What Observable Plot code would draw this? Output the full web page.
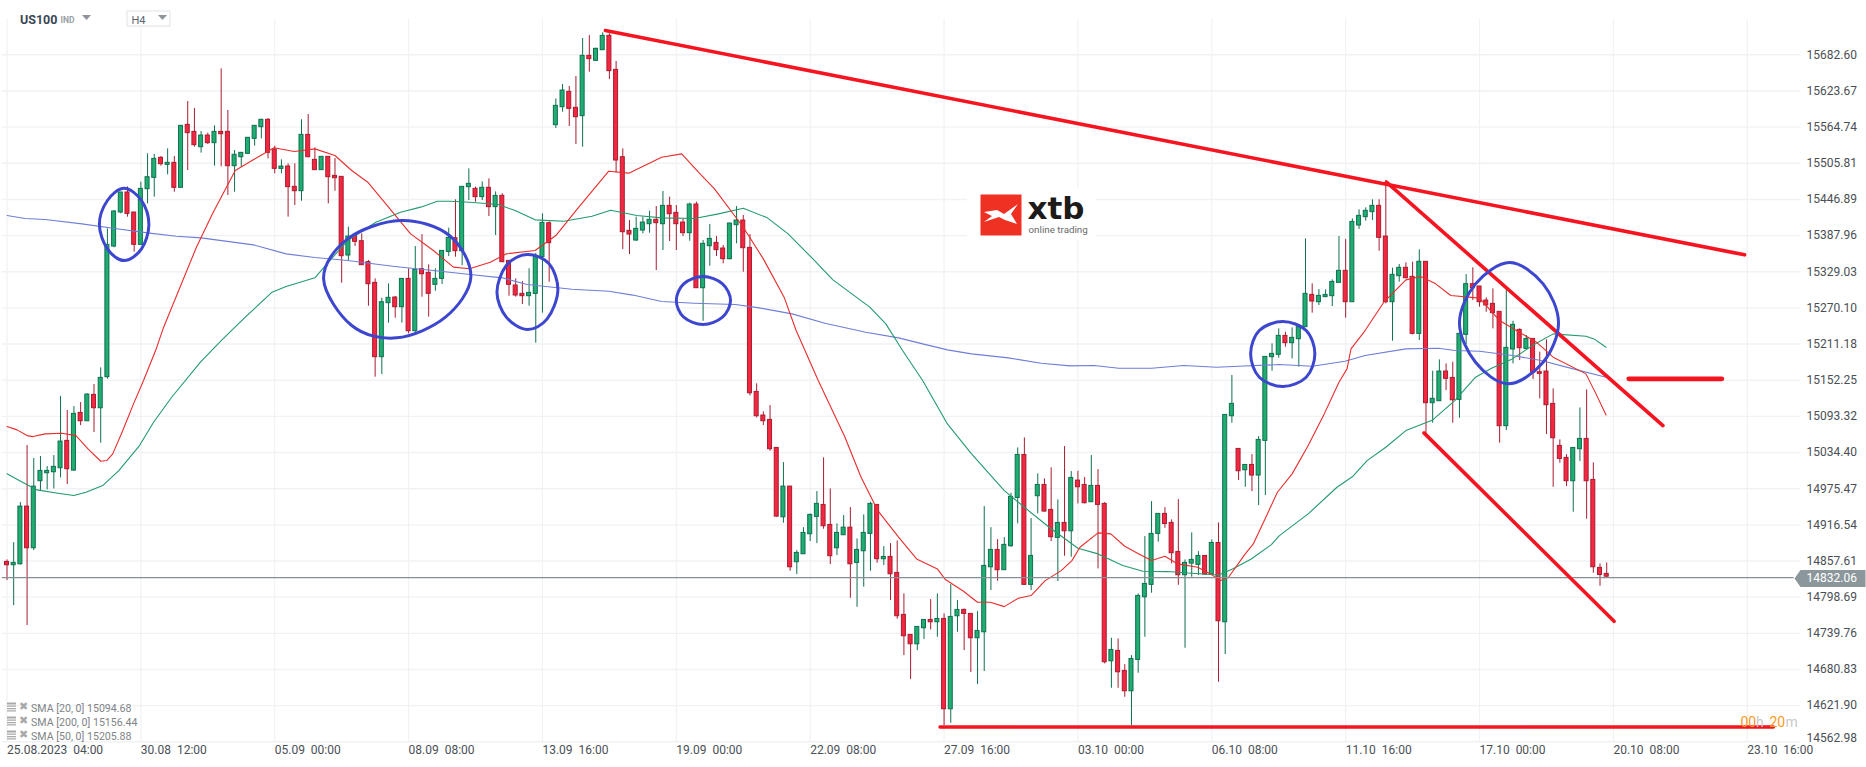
<!DOCTYPE html>
<html><head><meta charset="utf-8">
<style>html,body{margin:0;padding:0;background:#fff}svg{display:block}</style>
<script src="https://cdn.jsdelivr.net/npm/d3@7"></script>
<script src="https://cdn.jsdelivr.net/npm/@observablehq/plot@0.6"></script>
</head><body><div id="chart"></div>
<script>
const opens=[14856.1,14850.7,14852.3,14946.3,14878.4,14987.6,15000.7,15002.3,15008.8,15053.4,15005,15099,15085.4,15128.3,15106.6,15157.2,15370.1,15425.6,15458.2,15425.6,
15372.9,15463.6,15482,15514.7,15503.2,15506.5,15465.8,15568.4,15557,15532,15551,15538.6,15557,15557,15501.1,15515.7,15521.2,15545.6,15564.6,15576.6,
15528.2,15496.7,15500.5,15467.4,15460.3,15552.1,15511.4,15494.6,15516.3,15485.3,15483.7,15355.5,15387.5,15378.8,15344.6,15310.9,15189.8,15277.8,15287,15271.3,
15317.4,15232.1,15333.2,15327.2,15307.7,15317.4,15361.4,15383.7,15362.5,15466.9,15464.1,15450.6,15465.8,15434.3,15452.7,15346.8,15306.6,15293,15289.2,15292.9,
15352.8,15408.1,15567.9,15597.2,15622.2,15596.2,15582.6,15680.9,15672.8,15690.1,15713.5,15658,15515.7,15395.7,15379.9,15396.2,15406.5,15413.6,15406.5,15436.4,
15425,15409.2,15391.9,15438.6,15302.2,15370.7,15376.1,15366.9,15349.5,15404.9,15412.5,15368,15133.2,15094.7,15087.6,15041.9,14928.9,14978.9,14855.6,14868.6,
14901.2,14929.5,14949,14916.4,14878.4,14899.6,14912,14854.5,14873.5,14901.8,14949,14860.5,14864.3,14838.2,14769.8,14737.2,14721.9,14748,14761.6,14757.8,
14763.2,14616,14767.6,14777.9,14771.4,14731.7,14741.5,14847.4,14875.7,14842.6,14881.7,14960.4,15030.5,14818.7,14963.2,14981.6,14940.9,14895.3,14919.7,14906.1,
14988.7,14981.6,14953.4,14980,14950.7,14694.2,14711.1,14678.5,14645.3,14696.4,14798.5,14818.7,14901.8,14934.4,14919.7,14872.4,14834.4,14853.4,14851.3,14865.9,
14835.5,14887,14757.8,15093.6,15040.3,15005.5,15014.2,14996.9,15053.4,15189.8,15193.6,15224.5,15212.6,15219.1,15238.7,15291.3,15279.4,15287.6,15289.2,15310.9,
15330.5,15279.4,15404.4,15418,15426.1,15436.4,15386.4,15279.4,15321.8,15335.4,15320.7,15227.8,15345.2,15114.8,15118,15166.4,15156,15120.2,15226.2,15308.8,
15305,15282.1,15276.7,15263.7,15077.3,15202.3,15234.3,15203.3,15219.6,15165.3,15166.4,15113.7,15045.2,15025.7,14987.6,15039.8,15056.6,14989.8,14846.4,14836.6];
const closes=[14850.7,14854.5,14946.3,14878.4,14978.9,15004.5,15004.5,15011,15052.3,15007.2,15097.4,15085.4,15128.9,15106.6,15156.1,15372.9,15427.2,15458.2,15423.4,15372.9,
15464.1,15483.1,15513,15504.3,15506.5,15465.8,15566.8,15554.9,15535.3,15551,15538.6,15557,15553.2,15501.1,15519.6,15522.8,15547.3,15566.8,15576.6,15522.8,
15496.7,15500.5,15466.9,15460.3,15552.1,15515.7,15494.6,15516.3,15483.1,15481.5,15354.4,15386.4,15377.8,15339.7,15308.7,15189.8,15279.4,15286.5,15271.3,15317.4,
15232.1,15332.1,15325,15293,15317.4,15363,15384.3,15362.5,15467.4,15472.3,15450.6,15465.8,15434.3,15452.7,15344.6,15307.7,15290.3,15289.2,15294.6,15352.8,
15408.7,15375.6,15599.4,15624.4,15594.5,15580.9,15680.9,15675.5,15692.3,15713.5,15655.9,15510.3,15393.5,15389.7,15398.9,15409.2,15413.6,15408.2,15436.4,15422.8,
15406.5,15391.9,15438.6,15302.2,15374.5,15382.6,15364.2,15349.5,15407.6,15412.5,15367.4,15131,15093.6,15085.4,15039.8,14930,14978.9,14847.4,14870.8,14903.4,
14932.7,14950.7,14914.3,14865.4,14903.4,14912,14852.3,14875.7,14903.4,14950.7,14860.5,14864.3,14836,14767.6,14735,14721.9,14750.2,14761.6,14757.8,14763.2,
14616,14766.5,14777.9,14771.4,14731.7,14743.7,14849.6,14875.7,14842.6,14883.9,14962.1,15030.5,14818.7,14865.9,14981.6,14938.2,14896.4,14919.7,14906.1,14993,
14977.8,14951.8,14980,14949,14692.6,14712.7,14676.3,14645.3,14698,14800.7,14820.3,14901.8,14934.4,14918,14870.3,14834.4,14854.5,14859.4,14865.9,14835.5,
14887,14759.4,15095.7,15113.7,15003.9,15014.2,14996.9,15055,15190.3,15195.2,15224.5,15212.6,15221.3,15238.7,15293,15280.5,15289.7,15291.3,15312.5,15330.5,
15279.4,15410.3,15420.1,15428.3,15436.4,15384.3,15279.4,15324,15335.4,15318.5,15227.8,15345.2,15114.8,15121.9,15166.4,15154.5,15119.6,15227.8,15308.8,15302.2,
15279.4,15274,15261.5,15077.3,15205,15242.5,15204.4,15219.6,15164.2,15162.6,15111.5,15057.7,15024,14987.6,15041.9,15056.6,14987.6,14847.4,14834.9,14832.06];
const highs=[14859.4,14887.6,14952.8,15045.8,15024.6,15027.8,15011.5,15029.4,15125.6,15102.8,15109.3,15115.8,15130,15145.2,15172.4,15398.9,15428.8,15458.2,15467.4,15425.6,
15475,15521.2,15520,15516.8,15529.3,15516.8,15566.8,15606.5,15595,15557.6,15554.9,15566.8,15659.7,15591.8,15526.6,15522.8,15547.3,15566.8,15577.7,15578.8,
15533.7,15511.4,15504.9,15504.9,15576.6,15585.3,15531,15516.3,15516.3,15513.6,15483.7,15401.6,15390.8,15390.8,15347.3,15317.4,15286,15309.3,15288.6,15317.4,
15333.8,15370.1,15389.7,15340.3,15333.8,15363,15400,15446.2,15467.4,15496.7,15466.9,15475.6,15480.4,15459.2,15456,15346.8,15317.4,15313,15333.8,15359,
15423.4,15410.3,15610.8,15634.2,15631,15647.2,15709.2,15714,15693.4,15718.4,15716.8,15671.7,15529.3,15412.5,15418,15418,15427.7,15435.3,15459.8,15450.5,
15437,15415.2,15440.8,15442.4,15379.9,15406,15386.4,15371.8,15408.2,15435.3,15420.7,15389.7,15146.3,15100.6,15110.9,15041.9,15018,14978.9,14874.6,14912,
14934.4,14970.8,15025.7,14975.1,14918.1,14931.7,14944.7,14893.6,14932.7,14953.4,14949,14881.1,14886,14890.4,14804,14737.2,14750.2,14761.6,14794.7,14804,
14771.4,14819.2,14793.1,14779.5,14771.4,14775.2,14946.3,14912,14892.5,14895.8,14968,15041.9,15058.2,14926.8,14999.6,14991.4,15009.4,14957.2,15044.1,15003.4,
15003.9,14993.6,15029.4,15006.6,14952.8,14731.7,14730.6,14688.8,14703.5,14804,14897.4,14954.5,14934.4,14944.7,14924.6,14957.7,14859.4,14903.4,14872.9,14865.9,
14892,14919.7,15095.7,15159.9,15040.3,15014.2,15031,15060.4,15190.3,15211.5,15236,15230.5,15237.6,15243,15382.6,15309.3,15300,15299.5,15315.8,15386.4,
15381.5,15415.2,15429.9,15433.2,15446.2,15446.2,15477.7,15334.8,15340.8,15343.5,15344.6,15364.7,15345.2,15166.9,15185.4,15178.9,15181.6,15227.8,15324.5,15335.4,
15305,15286.5,15301.1,15263.7,15299.5,15248.4,15236,15225,15219.6,15197.9,15218,15138.2,15055,15031,15041.9,15107.1,15136.5,15017.5,14852.9,14854.5];
const lows=[14825.7,14784.9,14851,14752.4,14874.6,14972.4,14973.5,14975.1,14993,14982.2,15003.9,15078.3,15085.4,15067,15049.6,15153.9,15368,15423.4,15418,15360.9,
15371.8,15439.7,15450.6,15501.1,15487,15458.7,15465.8,15494,15532,15522.3,15536.4,15501.1,15500,15453.3,15458.7,15499.5,15520,15533.7,15545.6,15513,
15488.6,15488.6,15418,15437,15444,15514.7,15494,15494,15439.7,15460.3,15310.4,15347.3,15370.1,15339.7,15272.9,15157.2,15161.5,15245.2,15253.3,15245.2,
15227.8,15226.2,15287.6,15255,15297.3,15308.2,15353.8,15352.8,15339,15445.1,15442.4,15445.1,15419,15388.1,15344.6,15289.2,15287.6,15275.6,15272.9,15212.6,
15261.5,15312,15562.5,15589.1,15565.7,15536.4,15532,15654.3,15671.7,15689.6,15642.3,15490.2,15365.2,15357.1,15378.8,15390.8,15391.9,15331,15363.6,15378.3,
15363.6,15386.4,15378.8,15302.2,15248.4,15338,15353.8,15341.9,15348.4,15374.5,15328.3,15126.7,15090.8,15078.3,15036.5,14928.9,14919.2,14840.9,14835.5,14868.6,
14889.3,14886,14909.4,14851.8,14866.5,14899.6,14796.9,14782.2,14814.9,14840.9,14853.9,14850.2,14793.1,14762.7,14703.5,14664.4,14711.6,14729.6,14745.3,14733.4,
14589.4,14593.2,14741.5,14711.6,14675.8,14656.2,14677.4,14809.4,14824.6,14842.6,14880,14918.1,14818.7,14809.4,14934.4,14937.1,14889.3,14824.1,14865.4,14863.7,
14950.7,14950.7,14953.4,14844.7,14689.9,14650.2,14650.2,14635.6,14589.4,14674.7,14733.4,14805.1,14888.2,14911,14852.9,14818.1,14715.4,14831.2,14833.9,14833.9,
14833.9,14660,14705.1,15082.2,14988.7,14977.8,14970.8,14947.9,14964.3,15166.9,15188.1,15206.1,15187,15173.5,15238.7,15261.5,15274,15287.6,15272.3,15310.9,
15253.3,15279.4,15397.9,15411.4,15412.5,15362.5,15276.7,15215.8,15312,15317.4,15226,15216.9,15064.8,15082.2,15118,15135.4,15082.2,15090.3,15210.4,15282.1,
15271.3,15263,15235.9,15049.6,15070.2,15178.9,15184.3,15201.7,15153.4,15121.8,15063.7,14977.8,15017,14978.9,14937.1,15019.7,14925.7,14837.7,14816.5,14830];

const sma20Idx=[0,1.5,3,3.9,5.7,8.2,10.3,12.1,14,14.9,15.8,17.3,18.9,20.4,22.2,23.4,28.3,30.7,34.1,36.8,39.9,42.9,46,49,51.5,53.9,57,60.3,63.7,66.7,69.1,72.2,74.6,78.9,82,85,89.9,92.9,97.8,100.8,103.3,105.7,110,113,116.1,117.9,121.2,125.2,127.6,130.1,133.2,135.9,139,140.2,142.9,145,146.9,149,151.1,153,155.1,157.5,159.1,160.3,163,164.9,167,169.1,171,173,174.9,177.9,179.8,181.3,182.5,185,186.2,188.3,189.8,192,194.4,196.8,199,200.2,200.8,202.9,205.7,209,211.2,213.3,215.7,220,223,225.5,228.5,231,235.9,237.4,238.9];
const sma20Val=[15076.7,15071.3,15062,15060.4,15064.8,15065.9,15062,15040.3,15020.2,15021.3,15032.2,15070.2,15113.7,15151.7,15200.6,15238.7,15369,15423.4,15494,15511.4,15531,15525,15529.3,15518.5,15494,15475,15434.3,15390.8,15363.6,15336.5,15333.8,15344.6,15358.2,15363.6,15388,15428.8,15492.9,15489.7,15515.7,15521.2,15491.3,15464.1,15401.6,15350,15287.6,15233.2,15151.7,15059.3,14994.1,14939.8,14896.4,14861,14844.7,14827.4,14808.3,14790.4,14790.4,14783.3,14796.9,14801.3,14825.7,14842,14858.3,14880,14903.4,14901.8,14881.7,14869.2,14858.3,14865.4,14852.9,14847.4,14836.6,14825.7,14831.2,14869.2,14885.5,14934.4,14969.7,14999.6,15045.8,15097.4,15149,15170.7,15203.3,15233.2,15279.4,15315.8,15321.2,15310.4,15290.3,15286,15249.5,15233.2,15214.2,15189.8,15162.6,15130,15095.7];
const sma50Idx=[0,2.1,4.5,7.6,10,11.8,14.3,16.7,19.8,21.9,24.6,28.9,32,35.6,39.6,41.7,46,47.8,50.9,55.1,58.8,61.8,64.3,66.1,69.1,73.4,75.9,78.9,83.2,87.4,90.2,94.1,97.8,102.7,106.3,110,113.6,116.7,120.4,123.4,128.9,131.3,133.8,136.8,140.5,144.1,149,152,155.7,160,163,166.7,169.7,173.4,177,181,183.1,185.9,188.9,190.1,194.4,198.7,201.1,203.2,206,209,213,216.3,219.4,221.8,224.9,227.9,231,235.9,237.1,238.9];
const sma50Val=[14999.9,14987.1,14973.5,14968,14964.3,14969.7,14980.6,15005,15045.8,15083.8,15124.5,15181.6,15216.9,15255,15295.7,15305,15319.1,15341.9,15379.9,15409.8,15426.1,15434.3,15444,15444,15442.4,15438.6,15428.8,15413.6,15411.4,15419.6,15429.4,15420.7,15416.9,15415.8,15423.4,15432.6,15416.9,15390.8,15350,15315.8,15271.3,15244.1,15200.6,15151.7,15081,15032.2,14972.4,14945.2,14912.6,14878.4,14869.2,14850.2,14840.9,14840.4,14837.7,14834.9,14844.7,14861,14884.4,14899,14934.4,14977.8,14995.8,15021.3,15043,15070.2,15087.6,15119.1,15157.2,15171.8,15187,15208.8,15227.8,15224,15219.6,15206.1];
const sma200Idx=[0,2.7,5.7,11.2,16.1,21,25.3,29,36.8,41.7,46,50.9,57.6,63.7,69.2,74,77.7,84.4,89.9,93.5,97.8,102.7,108.8,112.4,117.3,122.2,128.3,133.2,136.8,140.5,144.1,149.6,154.5,158.8,162.4,166.1,171,175.8,180.7,184,190.1,195,199.9,202.9,209,213.9,216.3,220,224.9,229.2,234,238.9];
const sma200Val=[15420.7,15415.8,15414.2,15407.1,15399.5,15392.4,15387,15384.3,15372.9,15358.2,15352.2,15347.3,15338.1,15331,15324.5,15319.1,15308.2,15300.6,15297.3,15291,15280.5,15277.8,15275.6,15270.2,15260.4,15245.2,15230.5,15221.3,15211.5,15201.7,15195.2,15188.7,15180,15175.6,15176.2,15171.8,15171.8,15176.2,15173.5,15175.1,15177.8,15175.1,15183.2,15192.5,15203.3,15204.4,15200.6,15199.5,15192.5,15184.3,15170.7,15157.2];

const priceTicks=[15682.60,15623.67,15564.74,15505.81,15446.89,15387.96,15329.03,15270.10,15211.18,15152.25,15093.32,15034.40,14975.47,14916.54,14857.61,14798.69,14739.76,14680.83,14621.90,14562.98];
const timeTickIdx=[0,20,40,60,80,100,120,140,160,180,200,220,240,260];
const timeTickLabels=["25.08.2023  04:00","30.08  12:00","05.09  00:00","08.09  08:00","13.09  16:00","19.09  00:00","22.09  08:00","27.09  16:00","03.10  00:00","06.10  08:00","11.10  16:00","17.10  00:00","20.10  08:00","23.10  16:00"];
const lastPrice=14832.06;
const legendRows=["SMA [20, 0] 15094.68","SMA [200, 0] 15156.44","SMA [50, 0] 15205.88"];

// hand-drawn annotations: [candle index, price]
const trendMain=[[89.4,15722.2],[259.6,15356.6]];
const trendUpper=[[206.1,15475],[247.4,15078.3]];
const trendLower=[[211.7,15066.4],[240.1,14759.4]];
const support=[[139.4,14587.2],[263.9,14587.2]];
const resistance=[[242.3,15154.5],[256.2,15154.5]];
const loopA=[[17.5,15465.2],[20.1,15445.1],[21.2,15406],[20.1,15366.3],[17.5,15347.3],[15,15366.3],[13.8,15406],[15,15445.1]];
const loopB=[[58.8,15412.5],[66.1,15388.1],[69.3,15320.2],[65.5,15255],[58.2,15221.3],[51.5,15241.4],[47.3,15317.4],[50.9,15382.6]];
const loopC=[[77.7,15357.1],[81,15341.9],[82.3,15298.4],[80.7,15252.2],[77.7,15234.9],[74.6,15255],[73.2,15295.7],[74.6,15339.2]];
const loopD=[[104,15321.2],[106.9,15309.3],[108.1,15282.1],[106.9,15255],[104,15243],[101.1,15255],[100,15282.1],[101.1,15309.3]];
const loopE=[[190.6,15247.9],[194.1,15233.2],[195.4,15195.2],[194.1,15157.2],[190.6,15142],[187.1,15157.2],[185.8,15195.2],[187.1,15233.2]];
const loopF=[[224.5,15344.1],[229.5,15309.3],[231.8,15245.7],[229.5,15181.6],[224.3,15146.3],[219.4,15181.6],[217,15245.7],[219.4,15309.3]];

const GREEN="#1fad72",GREEN_D="#0f6f4f",RED="#f5263f",RED_D="#a81c30";
const FONT="Roboto, sans-serif";
const ids=d3.range(opens.length);
const up=ids.filter(i=>closes[i]>=opens[i]);
const down=ids.filter(i=>closes[i]<opens[i]);

const candles=(set,fill,stroke)=>[
  Plot.ruleX(set,{x:i=>i,y1:i=>lows[i],y2:i=>highs[i],stroke,strokeWidth:1}),
  Plot.rect(set,{x1:i=>i-0.3,x2:i=>i+0.3,y1:i=>opens[i],y2:i=>closes[i],fill,stroke,strokeWidth:1})
];
const seg=(pts,stroke,strokeWidth,extra={})=>Plot.line(pts,{x:d=>d[0],y:d=>d[1],stroke,strokeWidth,...extra});
const sma=(xs,vals,stroke)=>Plot.line(vals,{x:(d,i)=>xs[i],y:d=>d,stroke,strokeWidth:1.1,strokeLinejoin:"round"});
const loop=pts=>seg(pts,"#3d46cf",3,{curve:"cardinal-closed"});
const label=(text,dx,dy,o={})=>Plot.text([text],{text:d=>d,frameAnchor:"top-left",dx,dy,textAnchor:"start",lineAnchor:"middle",fontFamily:FONT,...o});
const glyph=(draw,dx,dy,fill,o={})=>Plot.dot([0],{frameAnchor:"top-left",dx,dy,r:5,fill,stroke:"none",symbol:{draw},...o});

const logoSquare=glyph(c=>{c.rect(-20.5,-20.5,41,41)},1000.5,214.5,"#ef3124");
const logoCross=glyph(c=>{
  c.moveTo(-17,-3);c.lineTo(-4,-5);c.lineTo(3,-1);c.lineTo(17,-11);c.lineTo(10,-1);c.lineTo(16,9);c.lineTo(4,5);
  c.lineTo(-2,2);c.lineTo(-17,7);c.lineTo(-9,1);c.closePath();
},1000.5,214.5,"#ffffff");
const triangle=c=>{c.moveTo(-4.5,-2.5);c.lineTo(4.5,-2.5);c.lineTo(0,2.5);c.closePath()};
const bars=c=>{c.rect(-4.5,-4,9,2);c.rect(-4.5,-1,9,1.2);c.rect(-4.5,1.5,9,1.2);c.rect(-4.5,3.8,9,1.2)};
const tagShape=c=>{c.moveTo(-35,0);c.lineTo(-29,-8.5);c.lineTo(36,-8.5);c.lineTo(36,8.5);c.lineTo(-29,8.5);c.closePath()};

const chart=Plot.plot({
  width:1866,height:767,
  marginTop:0,marginLeft:0,marginRight:61,marginBottom:26,
  style:{fontFamily:FONT,background:"#fff",overflow:"visible"},
  x:{domain:[0,268.7],range:[6.5,1805]},
  y:{domain:[14562.98,15682.60],range:[741.3,54.3]},
  marks:[
    Plot.ruleY(priceTicks,{x1:-0.7,x2:268,stroke:"#f1f2f4",strokeWidth:1.4}),
    Plot.ruleX(timeTickIdx,{y1:14562.98,y2:15741,stroke:"#f1f2f4",strokeWidth:1.2}),
    Plot.rect([0],{x1:143.5,x2:162.7,y1:15380,y2:15464,fill:"#fff"}),
    ...candles(up,GREEN,GREEN_D),
    ...candles(down,RED,RED_D),
    sma(sma200Idx,sma200Val,"#6f7ed6"),
    sma(sma50Idx,sma50Val,"#239a6c"),
    sma(sma20Idx,sma20Val,"#ea2c2c"),
    Plot.ruleY([lastPrice],{x1:-0.7,x2:267,dy:1,stroke:"#868f93",strokeWidth:1.3}),
    seg(trendMain,"#f5141f",3.6),
    seg(trendUpper,"#f5141f",3.6),
    seg(trendLower,"#f5141f",3.6),
    seg(support,"#f5141f",3.6),
    seg(resistance,"#f5141f",4.8,{strokeLinecap:"round"}),
    loop(loopA),loop(loopB),loop(loopC),loop(loopD),loop(loopE),loop(loopF),
    Plot.axisX({anchor:"bottom",ticks:timeTickIdx,tickFormat:d=>timeTickLabels[timeTickIdx.indexOf(d)].replace(/ /g,"\u00a0"),tickSize:0,tickPadding:4,textAnchor:"start",label:null,fontSize:12,fill:"#4a4f55",fontFamily:FONT}),
    Plot.axisY({anchor:"right",ticks:priceTicks.slice(0,-1),tickFormat:d=>d.toFixed(2),tickSize:0,tickPadding:1,label:null,fontSize:12,fill:"#4a4f55",fontFamily:FONT}),
    Plot.axisY({anchor:"right",ticks:priceTicks.slice(-1),tickFormat:d=>d.toFixed(2),tickSize:0,tickPadding:1,label:null,fontSize:12,fill:"#4a4f55",fontFamily:FONT,dy:-4}),
    glyph(tagShape,1829,578,"#8c979c"),
    label(lastPrice.toFixed(2),1806,578,{fill:"#ffffff",fontSize:12}),
    // header
    label("US100",19.5,19,{fill:"#3a4754",fontSize:12.5,fontWeight:700}),
    label("IND",60,19.5,{fill:"#9aa1a6",fontSize:8.5,fontWeight:700}),
    glyph(triangle,86,17,"#8e9499"),
    glyph(c=>{c.rect(-21.5,-7.5,43,15)},148,18,"#ffffff",{stroke:"#dfe2e4",strokeWidth:1}),
    label("H4",131,20,{fill:"#5c6670",fontSize:11}),
    glyph(triangle,162,17,"#8e9499"),
    // logo
    logoSquare,logoCross,
    label("xtb",1027,209,{fill:"#1d1a1a",fontSize:31,fontWeight:700,fontFamily:"DejaVu Sans"}),
    label("online trading",1028,229,{fill:"#6a6a6a",fontSize:9.8}),
    // indicator legend
    ...legendRows.flatMap((t,r)=>[
      glyph(bars,11,706+14*r,"#a9a9a9"),
      label("✖",18.5,706+14*r,{fill:"#a9a9a9",fontSize:11,fontFamily:"DejaVu Sans"}),
      label(t.replace(/ /g,"\u00a0"),30.5,708+14*r,{fill:"#808487",fontSize:10.6})
    ]),
    // candle timer
    label("00",1740,722,{fill:"#f79a1e",fontSize:14}),
    label("h",1755.5,722,{fill:"#c9c9c9",fontSize:14}),
    label("20",1769,722,{fill:"#f79a1e",fontSize:14}),
    label("m",1785,722,{fill:"#c9c9c9",fontSize:14})
  ]
});
document.getElementById("chart").appendChild(chart);
</script></body></html>
